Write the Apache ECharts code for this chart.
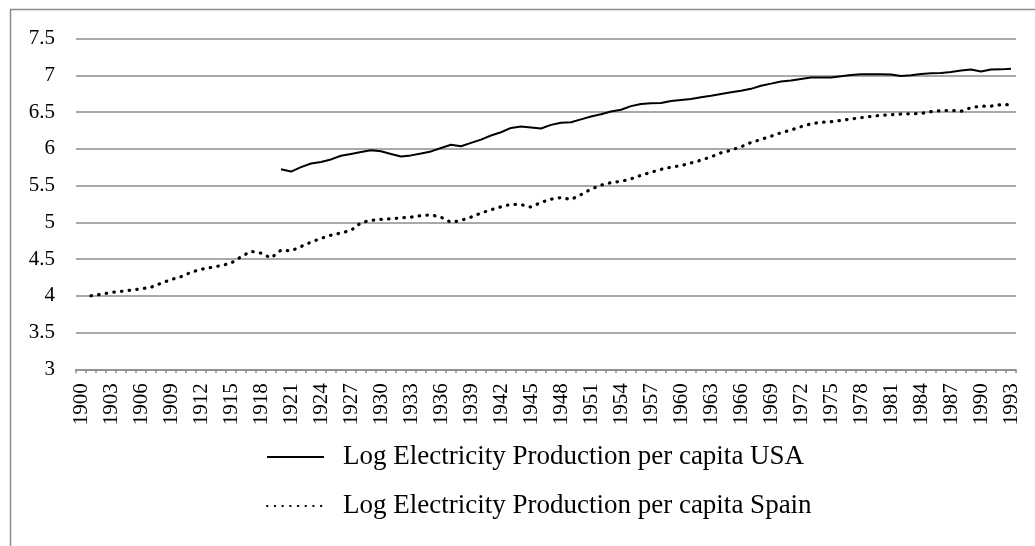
<!DOCTYPE html>
<html>
<head>
<meta charset="utf-8">
<script src="https://cdn.jsdelivr.net/npm/echarts@6/dist/echarts.min.js"></script>
<style>
html,body{margin:0;padding:0;background:#fff;}
#chart{width:1035px;height:546px;}
</style>
</head>
<body>
<div id="chart"></div>
<script>
const firstYear = 1900;
const lastYear = 1993;
const yTicks = [3, 3.5, 4, 4.5, 5, 5.5, 6, 6.5, 7, 7.5];
const usaName = 'Log Electricity Production per capita USA';
const spainName = 'Log Electricity Production per capita Spain';
const usaStart = 1920;
const usaValues = [
  5.72, 5.69, 5.75, 5.80, 5.82, 5.855, 5.905, 5.93, 5.955, 5.98,
  5.965, 5.93, 5.895, 5.91, 5.936, 5.964, 6.01, 6.055, 6.035, 6.08,
  6.125, 6.18, 6.225, 6.284, 6.303, 6.29, 6.275, 6.325, 6.355, 6.36,
  6.40, 6.44, 6.47, 6.507, 6.53, 6.58, 6.61, 6.62, 6.623, 6.65,
  6.664, 6.677, 6.70, 6.72, 6.745, 6.768, 6.79, 6.815, 6.857, 6.886,
  6.916, 6.93, 6.95, 6.968, 6.968, 6.968, 6.986, 7.005, 7.014, 7.014,
  7.014, 7.01, 6.99, 7.0, 7.018, 7.027, 7.03, 7.045, 7.064, 7.077,
  7.05, 7.077, 7.08, 7.09
];
const spainStart = 1901;
const spainValues = [
  4.00, 4.02, 4.045, 4.06, 4.077, 4.095, 4.116, 4.17, 4.22,
  4.26, 4.32, 4.36, 4.385, 4.41, 4.445, 4.53, 4.605, 4.58, 4.515,
  4.62, 4.61, 4.67, 4.73, 4.78, 4.825, 4.855, 4.89, 4.995, 5.027,
  5.04, 5.048, 5.06, 5.07, 5.09, 5.10, 5.07, 5.00, 5.025, 5.07,
  5.125, 5.17, 5.21, 5.245, 5.24, 5.207, 5.27, 5.314, 5.336, 5.31,
  5.377, 5.45, 5.505, 5.54, 5.557, 5.59, 5.64, 5.68, 5.72, 5.75,
  5.77, 5.807, 5.845, 5.89, 5.945, 5.98, 6.027, 6.085, 6.127, 6.17,
  6.218, 6.255, 6.30, 6.34, 6.36, 6.368, 6.386, 6.405, 6.423, 6.44,
  6.455, 6.464, 6.473, 6.477, 6.48, 6.505, 6.518, 6.523, 6.51, 6.56,
  6.58, 6.58, 6.60, 6.60
];

const years = [];
for (let y = firstYear; y <= lastYear; y++) years.push(String(y));
function pad(start, vals) {
  const out = [];
  for (let y = firstYear; y < start; y++) out.push(null);
  return out.concat(vals);
}

const FONT = '"Liberation Serif", "Times New Roman", serif';
const GRID = '#8c8c8c';
const chart = echarts.init(document.getElementById('chart'), null, {renderer: 'canvas'});
chart.setOption({
  animation: false,
  backgroundColor: '#ffffff',
  graphic: [{
    type: 'rect',
    shape: {x: 10.5, y: 9.5, width: 1200, height: 1000},
    style: {fill: 'none', stroke: GRID, lineWidth: 1.5},
    silent: true,
    z: -1
  }],
  grid: {left: 76, right: 19, top: 38.5, bottom: 176.7, containLabel: false},
  legend: {
    orient: 'vertical',
    left: 261,
    top: 437,
    itemWidth: 57,
    itemHeight: 14,
    itemGap: 19,
    itemStyle: {color: 'rgba(0,0,0,0)', opacity: 0, borderWidth: 0},
    textStyle: {fontFamily: FONT, fontSize: 27, color: '#000', lineHeight: 30, padding: [0, 0, 0, 14]},
    data: [usaName, spainName]
  },
  xAxis: {
    type: 'category',
    data: years,
    boundaryGap: true,
    axisLine: {show: true, lineStyle: {color: GRID, width: 1.5}},
    axisTick: {show: true, interval: 0, length: 4, lineStyle: {color: GRID, width: 1.5}},
    axisLabel: {interval: 2, rotate: 90, margin: 14, fontFamily: FONT, fontSize: 21, color: '#000'},
    splitLine: {show: false}
  },
  yAxis: {
    type: 'value',
    min: yTicks[0],
    max: yTicks[yTicks.length - 1],
    interval: 0.5,
    axisLine: {show: false},
    axisTick: {show: false},
    axisLabel: {margin: 21, fontFamily: FONT, fontSize: 21, color: '#000'},
    splitLine: {show: true, lineStyle: {color: GRID, width: 1.5}}
  },
  series: [
    {
      name: usaName,
      type: 'line',
      data: pad(usaStart, usaValues),
      showSymbol: false,
      symbol: 'none',
      connectNulls: false,
      lineStyle: {color: '#000', width: 2},
      itemStyle: {color: '#000'}
    },
    {
      name: spainName,
      type: 'line',
      data: pad(spainStart, spainValues),
      showSymbol: false,
      symbol: 'none',
      connectNulls: false,
      lineStyle: {color: '#000', width: 3.2, type: [0.5, 7.2], cap: 'round'},
      itemStyle: {color: '#000'}
    }
  ]
});
</script>
</body>
</html>
